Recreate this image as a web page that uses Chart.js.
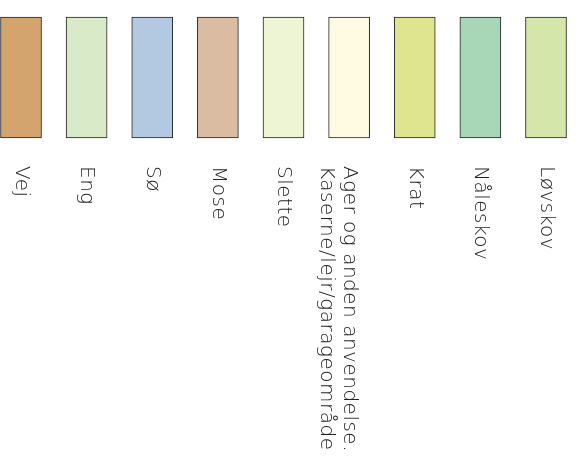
<!DOCTYPE html>
<html>
<head>
<meta charset="utf-8">
<script src="https://cdn.jsdelivr.net/npm/chart.js@4.4.1/dist/chart.umd.min.js"></script>
<style>
  html, body { margin: 0; padding: 0; background: #fff; }
  #wrap { width: 578px; height: 461px; }
</style>
</head>
<body>
<div id="wrap"><canvas id="legendChart"></canvas></div>
<script>
// Legend entries, left to right
const categories = [
    ["Vej"],
    ["Eng"],
    ["Sø"],
    ["Mose"],
    ["Slette"],
    ["Ager og anden anvendelse.", "Kaserne/lejr/garageområde"],
    ["Krat"],
    ["Nåleskov"],
    ["Løvskov"]
];
const swatchColors = ["#d4a46e", "#d9eac8", "#b3c9e2", "#d9bca1", "#eef5d5",
                      "#fffbe3", "#dfe58f", "#a8d7b7", "#d4e6a9"];
// every swatch spans the full legend row
const swatchValues = [[0, 1], [0, 1], [0, 1], [0, 1], [0, 1], [0, 1], [0, 1], [0, 1], [0, 1]];

// Draw the rotated labels under each swatch
const rotatedLabels = {
    id: "rotatedLabels",
    afterDatasetsDraw(chart) {
        const ctx = chart.ctx;
        const bars = chart.getDatasetMeta(0).data;
        ctx.save();
        ctx.font = "200 20px 'DejaVu Sans'";
        ctx.letterSpacing = "0.5px";
        ctx.fillStyle = "#222";
        ctx.textAlign = "left";
        ctx.textBaseline = "middle";
        bars.forEach((bar, i) => {
            ctx.save();
            ctx.translate(bar.x, chart.chartArea.bottom + 28);
            ctx.rotate(Math.PI / 2);
            categories[i].forEach((line, j) => {
                ctx.fillText(line, 0, j * 23);
            });
            ctx.restore();
        });
        ctx.restore();
    }
};

new Chart(document.getElementById("legendChart"), {
    type: "bar",
    data: {
        labels: categories.map(c => c.join(" ")),
        datasets: [{
            data: swatchValues,
            backgroundColor: swatchColors,
            borderColor: "#222",
            borderWidth: 1,
            borderSkipped: false,
            barThickness: 41,
            clip: false
        }]
    },
    options: {
        responsive: true,
        maintainAspectRatio: false,
        animation: false,
        layout: {
            padding: { left: 21, right: 32, top: 17, bottom: 323 }
        },
        plugins: {
            legend: { display: false },
            tooltip: { enabled: false }
        },
        scales: {
            x: { display: false, offset: false },
            y: { display: false, min: 0, max: 1, reverse: true }
        }
    },
    plugins: [rotatedLabels]
});
</script>
</body>
</html>
